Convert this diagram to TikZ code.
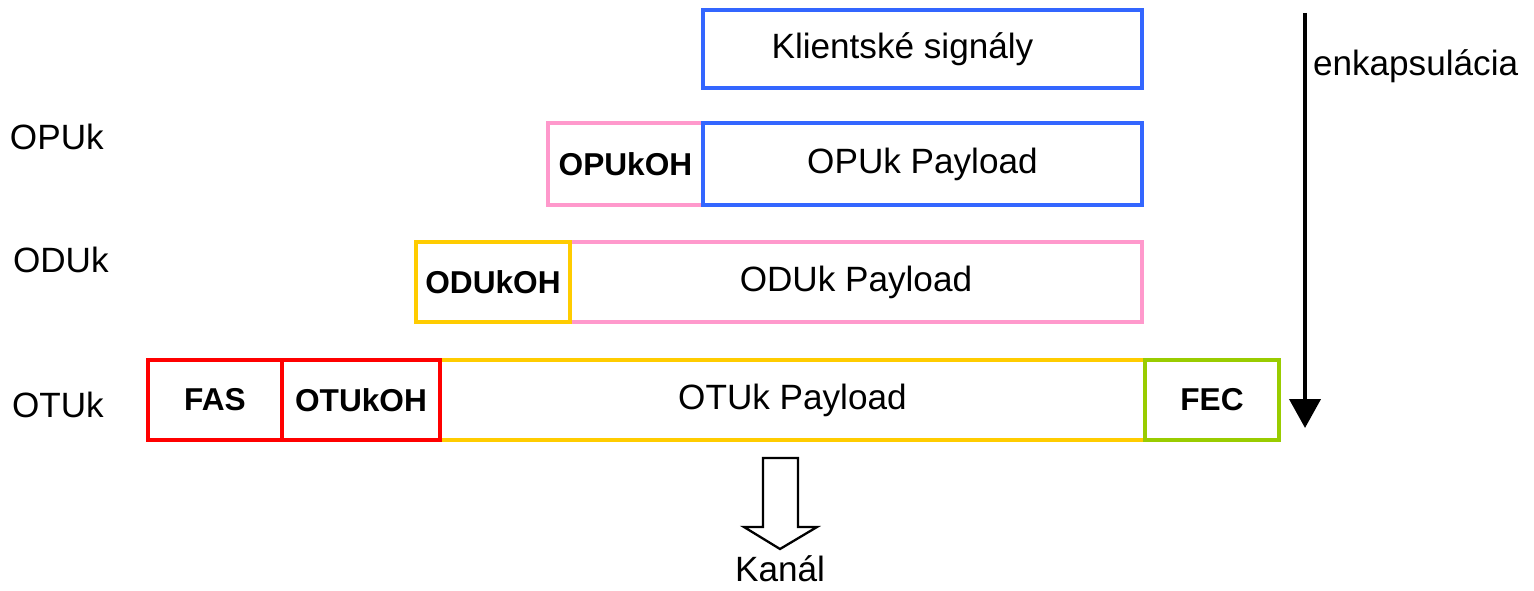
\documentclass[tikz,border=0pt]{standalone}
\usepackage{fontspec}
\setmainfont{Liberation Sans}
\usetikzlibrary{arrows.meta,positioning}
\definecolor{cliblue}{HTML}{3366FF}
\definecolor{opupink}{HTML}{FF99CC}
\definecolor{odugold}{HTML}{FFCC00}
\definecolor{otured}{HTML}{FF0000}
\definecolor{fecgreen}{HTML}{99CC00}
\begin{document}
\begin{tikzpicture}[x=0.02cm,y=-0.02cm]
\tikzset{every node/.style={inner sep=0pt, outer sep=0pt, font=\fontsize{20}{24}\selectfont}}
\tikzstyle{frame}=[draw, line width=2.3pt, anchor=north west, minimum height=1.6cm]
\tikzstyle{oh}=[frame, font=\fontsize{18}{22}\selectfont\bfseries]
\useasboundingbox (0,0) rectangle (1534,591);
% client signals
\node [frame, draw=cliblue, minimum width=8.78cm, minimum height=1.56cm] (cli) at (703,10) {Klientské signály\hspace*{0.8cm}};
% OPUk
\node [oh, draw=opupink, minimum width=3.10cm, minimum height=1.64cm] (opuoh) at (548,123) {OPUkOH};
\node [frame, draw=cliblue, minimum width=8.78cm, minimum height=1.64cm] (opupl) at (703,123) {OPUk Payload};
% ODUk
\node [frame, draw=opupink, minimum width=11.44cm] (odupl) at (570,242) {ODUk Payload};
\node [oh, draw=odugold, minimum width=3.08cm] (oduoh) at (416,242) {ODUkOH};
% OTUk
\node [frame, draw=odugold, minimum width=14.10cm] (otupl) at (440,360) {OTUk Payload};
\node [oh, draw=otured, minimum width=2.68cm] (fas) at (148,360) {FAS};
\node [oh, draw=otured, minimum width=3.16cm] (otuoh) at (282,360) {OTUkOH};
\node [oh, draw=fecgreen, minimum width=2.68cm] (fec) at (1145,360) {FEC};
% layer names
\node [anchor=west] (opuname) at (10,137) {OPUk};
\node [anchor=west] (oduname) at (13,260) {ODUk};
\node [anchor=west] (otuname) at (12,405) {OTUk};
% encapsulation arrow
\coordinate (enctop) at (1305,13);
\coordinate (encbot) at (1305,428);
\draw [line width=2.3pt, -{Triangle[length=0.58cm, width=0.62cm]}] (enctop) -- (encbot);
\node [anchor=west] (enc) at (1313,66) {enkapsulácia};
% channel
\draw [line width=1.3pt, line join=miter] (763,458) -- (798,458) -- (798,527) -- (817,527) -- (780,549) -- (744,527) -- (763,527) -- cycle;
\node (kanal) at (780,569) {Kanál};
\end{tikzpicture}
\end{document}
